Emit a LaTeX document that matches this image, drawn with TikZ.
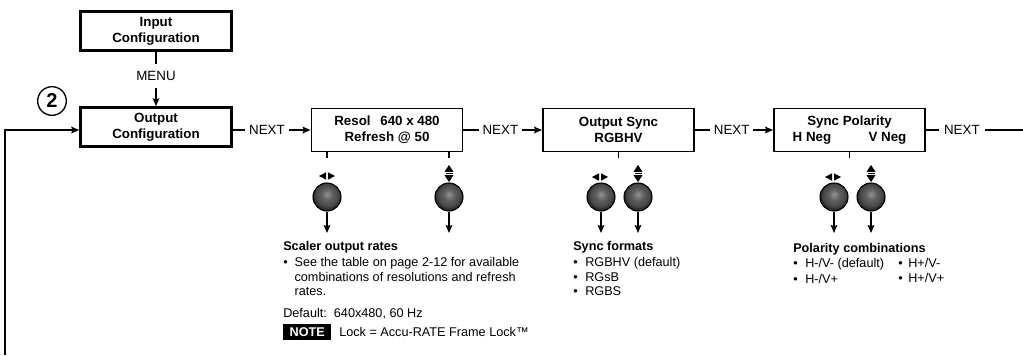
\documentclass[tikz,border=0pt]{standalone}
\usepackage{fontspec}
\setmainfont{Liberation Sans}
\usetikzlibrary{arrows.meta,shadings}
\pgfdeclareradialshading{btnshade}{\pgfpoint{0bp}{5bp}}{color(0bp)=(gray!85); color(10bp)=(gray!75!black); color(20bp)=(gray!55!black); color(25bp)=(black!85); color(50bp)=(black)}
\tikzset{
  bigbox/.style={draw, line width=2.2pt, minimum width=113pt, minimum height=29pt, align=center, inner sep=0pt, font=\bfseries\fontsize{10}{12}\selectfont},
  menubox/.style={draw, line width=1.2pt, minimum width=113.5pt, minimum height=32pt, align=center, inner sep=0pt, font=\bfseries\fontsize{10}{12}\selectfont},
  arrow/.style={line width=1pt, -{Stealth[length=6pt,width=5pt,inset=1pt]}},
  plain/.style={line width=1pt},
  lbl/.style={fill=white, inner xsep=3pt, inner ysep=2pt, font=\fontsize{10}{12}\selectfont},
  btn/.style={circle, draw=black, line width=0.8pt, minimum size=21pt, inner sep=0pt, shading=btnshade},
  txt/.style={anchor=base west, inner sep=0pt, font=\fontsize{9.5}{11}\selectfont},
  head/.style={txt, font=\bfseries\fontsize{9.5}{11}\selectfont},
  lricon/.pic={\fill (-8,0) -- (-1,-3.7) -- (-1,3.7) -- cycle; \fill (8,0) -- (1,-3.7) -- (1,3.7) -- cycle;},
  udicon/.pic={\fill (0,-8.5) -- (-4.5,-1.7) -- (4.5,-1.7) -- cycle; \fill (0,8.5) -- (-4.5,1.7) -- (4.5,1.7) -- cycle; \draw[line width=0.5pt] (-3.5,0) -- (3.5,0);}
}
\newcommand{\bl}{\makebox[8.5pt][l]{\textbullet}}
\begin{document}
\begin{tikzpicture}[x=0.75pt,y=-0.75pt]
\useasboundingbox (0,0) rectangle (1023,355);

% main boxes
\node[bigbox] (inp) at (156,31) {Input\\Configuration};
\node[bigbox] (out) at (156,127) {Output\\Configuration};
\node[menubox] (res) at (387,130) {Resol\hspace{4.5pt} 640 x 480\\Refresh @ 50};
\node[menubox] (sync) at (618.5,130) {Output Sync\\RGBHV};
\node[menubox] (pol) at (849.5,130) {Sync Polarity\\H Neg\hspace{28pt}V Neg};

\node[circle, draw, line width=1pt, minimum size=21.5pt, inner sep=0pt, font=\bfseries\fontsize{15}{15}\selectfont] (n2) at (52,101) {2};

% connectors
\draw[arrow] (inp.south) -- node[lbl, pos=0.45, inner ysep=5.4pt]{MENU} (out.north);
\draw[arrow] (out.east |- res.west) -- node[lbl, pos=0.44]{NEXT} (res.west);
\draw[arrow] (res.east) -- node[lbl, pos=0.47]{NEXT} (sync.west);
\draw[arrow] (sync.east) -- node[lbl, pos=0.47]{NEXT} (pol.west);
\coordinate (rend) at (1023,130);
\draw[plain] (pol.east) -- node[lbl, pos=0.37, inner xsep=3.8pt]{NEXT} (rend);
\coordinate (lbot) at (5,355);
\draw[arrow] (lbot) |- ([yshift=-2.25pt]out.west);

% buttons
\node[btn] (b1) at (327,197) {};
\node[btn] (b2) at (449,197) {};
\node[btn] (b3) at (601,197) {};
\node[btn] (b4) at (638,197) {};
\node[btn] (b5) at (834,197) {};
\node[btn] (b6) at (871,197) {};

% ticks
\draw[plain] (res.south -| b1) -- ++(0,6);
\draw[plain] (res.south -| b2) -- ++(0,6);
\draw[plain] (sync.south) -- ++(0,6);
\draw[plain] (pol.south) -- ++(0,6);

% icons
\pic at (327,176) {lricon};
\pic at (449,173.5) {udicon};
\pic at (600,177) {lricon};
\pic at (638,173.5) {udicon};
\pic at (833,177) {lricon};
\pic at (871,173.5) {udicon};

% arrows below buttons
\coordinate (a1) at (327,233);
\coordinate (a2) at (449,233);
\coordinate (a3) at (601,233);
\coordinate (a4) at (638,233);
\coordinate (a5) at (834,233);
\coordinate (a6) at (871,233);
\draw[arrow] (b1.south) -- (a1);
\draw[arrow] (b2.south) -- (a2);
\draw[arrow] (b3.south) -- (a3);
\draw[arrow] (b4.south) -- (a4);
\draw[arrow] (b5.south) -- (a5);
\draw[arrow] (b6.south) -- (a6);

% scaler text
\node[head] (s0) at (283,250.5) {Scaler output rates};
\node[txt] (s1) at (283,266) {\bl See the table on page 2-12 for available};
\node[txt] (s2) at (283,281) {\hspace{8.5pt}combinations of resolutions and refresh};
\node[txt] (s3) at (283,295.5) {\hspace{8.5pt}rates.};
\node[txt] (s4) at (283,317.5) {Default:\ \ 640x480, 60 Hz};
\node[anchor=north west, fill=black, text=white, minimum width=36pt, minimum height=12pt, inner sep=0pt, font=\bfseries\fontsize{9.5}{11}\selectfont] (note) at (283,324) {NOTE};
\node[txt] (s5) at (339,336) {Lock = Accu-RATE Frame Lock™};

% sync formats
\node[head] (f0) at (573,250.5) {Sync formats};
\node[txt] (f1) at (573,266) {\makebox[9pt][l]{\textbullet}RGBHV (default)};
\node[txt] (f2) at (573,281) {\makebox[9pt][l]{\textbullet}RGsB};
\node[txt] (f3) at (573,295.5) {\makebox[9pt][l]{\textbullet}RGBS};

% polarity
\node[head] (p0) at (793,252.5) {Polarity combinations};
\node[txt] (p1) at (793,267.5) {\makebox[9pt][l]{\textbullet}H-/V- (default)};
\node[txt] (p2) at (793,283) {\makebox[9pt][l]{\textbullet}H-/V+};
\node[txt] (p3) at (898,267.5) {\makebox[7.5pt][l]{\textbullet}H+/V-};
\node[txt] (p4) at (898,282.5) {\makebox[7.5pt][l]{\textbullet}H+/V+};
\end{tikzpicture}
\end{document}
